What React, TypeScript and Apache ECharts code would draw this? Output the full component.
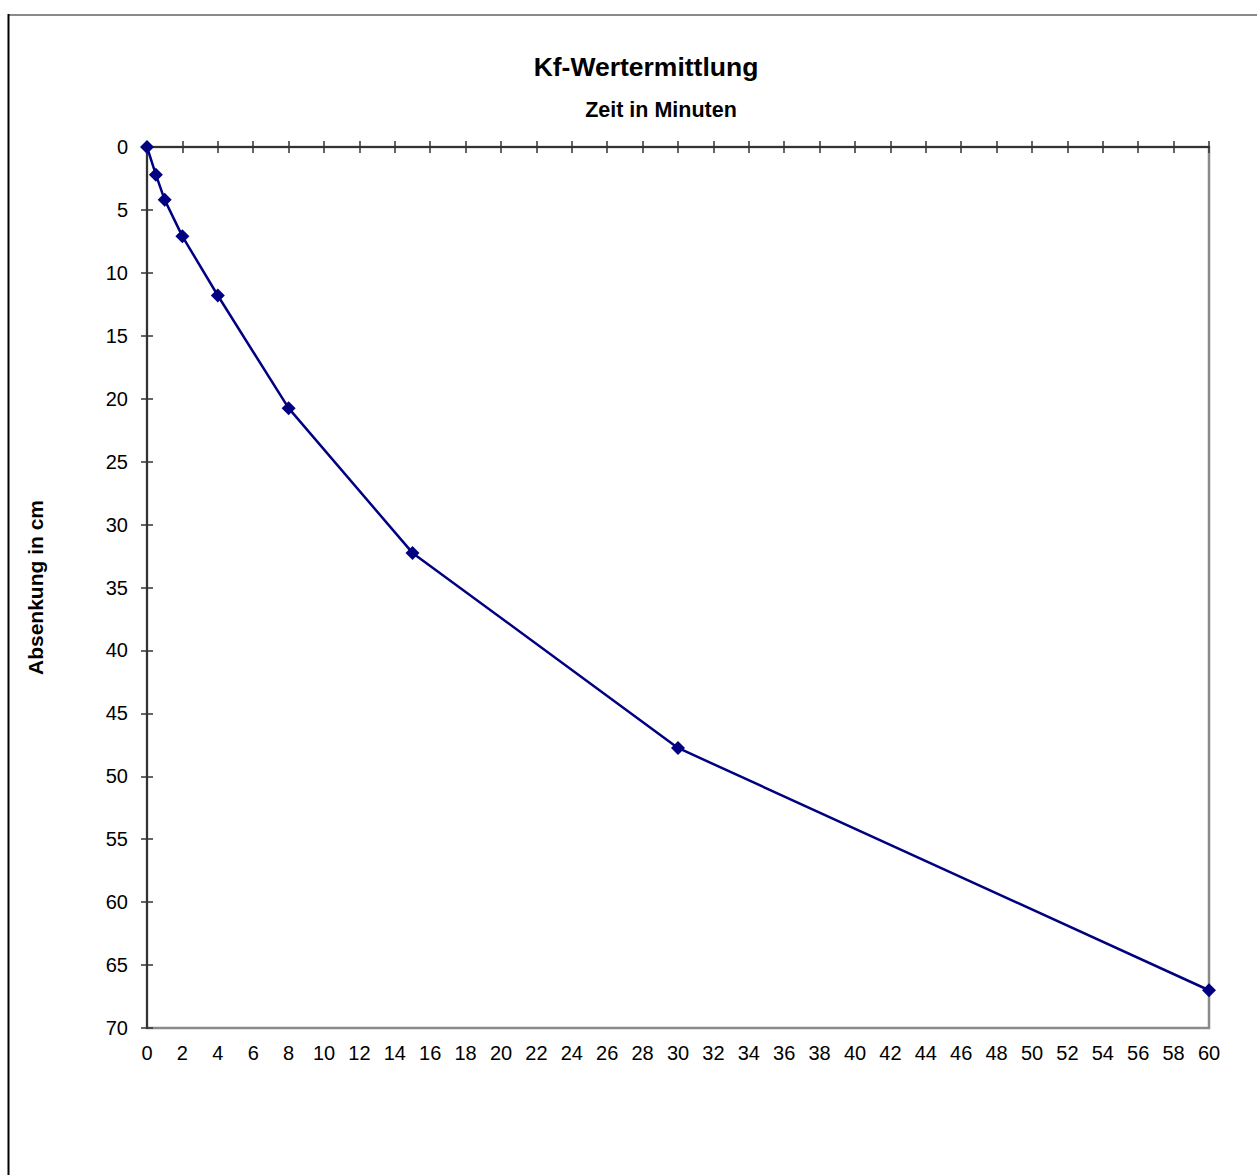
import React, { useEffect, useRef } from "react";
import * as echarts from "echarts";

const timeMinutes: number[] = [0, 0.5, 1, 2, 4, 8, 15, 30, 60];
const drawdownCm: number[] = [0, 2.2, 4.2, 7.1, 11.8, 20.75, 32.25, 47.75, 67];
const chartTitle = "Kf-Wertermittlung";
const xTitle = "Zeit in Minuten";
const yTitle = "Absenkung in cm";

const FONT = "'Liberation Sans', Arial, Helvetica, sans-serif";

export default function App() {
  const ref = useRef<HTMLDivElement>(null);
  useEffect(() => {
    document.body.style.margin = "0";
    const chart = echarts.init(ref.current!, null, { renderer: "svg" });
    const gridRect = { left: 147, top: 147, right: 48, bottom: 147 };
    const xBase = { type: "value", min: 0, max: 60, interval: 2, splitLine: { show: false } };
    const yBase = { type: "value", min: 0, max: 70, interval: 5, inverse: true, splitLine: { show: false } };
    const seriesData = timeMinutes.map((t, i) => [t, drawdownCm[i]]);
    chart.setOption({
      animation: false,
      backgroundColor: "#ffffff",
      textStyle: { fontFamily: FONT },
      grid: [
        { ...gridRect, show: true, borderColor: "#8a8a8a", borderWidth: 2.5, backgroundColor: "transparent" },
        { ...gridRect, show: false },
      ],
      xAxis: [
        {
          ...xBase,
          gridIndex: 0,
          position: "top",
          axisLine: { show: true, lineStyle: { color: "#333333", width: 2 } },
          axisTick: { show: true, inside: false, length: 6, lineStyle: { color: "#333333", width: 1.5 } },
          axisLabel: { show: false },
        },
        {
          ...xBase,
          gridIndex: 0,
          position: "bottom",
          axisLine: { show: false },
          axisTick: { show: false },
          axisLabel: { show: true, margin: 15, fontSize: 20, color: "#000000", fontFamily: FONT },
        },
        {
          ...xBase,
          gridIndex: 1,
          position: "top",
          axisLine: { show: false },
          axisTick: { show: true, inside: true, length: 6, lineStyle: { color: "#333333", width: 1.5 } },
          axisLabel: { show: false },
        },
      ],
      yAxis: [
        {
          ...yBase,
          gridIndex: 0,
          position: "left",
          axisLine: { show: true, lineStyle: { color: "#333333", width: 2 } },
          axisTick: { show: true, inside: false, length: 6, lineStyle: { color: "#333333", width: 1.5 } },
          axisLabel: { show: true, margin: 19, fontSize: 20, color: "#000000", fontFamily: FONT },
          name: yTitle,
          nameLocation: "middle",
          nameGap: 101,
          nameRotate: 90,
          nameTextStyle: { fontSize: 21, fontWeight: "bold", color: "#000000", fontFamily: FONT },
        },
        {
          ...yBase,
          gridIndex: 1,
          position: "left",
          axisLine: { show: false },
          axisTick: { show: true, inside: true, length: 6, lineStyle: { color: "#333333", width: 1.5 } },
          axisLabel: { show: false },
        },
      ],
      series: [
        {
          type: "line",
          xAxisIndex: 0,
          yAxisIndex: 0,
          data: seriesData,
          symbol: "diamond",
          symbolSize: 14,
          showSymbol: true,
          lineStyle: { color: "#000080", width: 2.5 },
          itemStyle: { color: "#000080" },
          z: 5,
        },
      ],
      graphic: [
        { type: "line", shape: { x1: 8, y1: 15, x2: 1257, y2: 15 }, style: { stroke: "#8a8a8a", lineWidth: 2 } },
        { type: "line", shape: { x1: 8.5, y1: 14, x2: 8.5, y2: 1175 }, style: { stroke: "#000000", lineWidth: 2 } },
        {
          type: "text",
          x: 646,
          y: 67,
          style: { text: chartTitle, align: "center", verticalAlign: "middle", font: `bold 26.5px ${FONT}`, fill: "#000000" },
        },
        {
          type: "text",
          x: 661,
          y: 110,
          style: { text: xTitle, align: "center", verticalAlign: "middle", font: `bold 21.5px ${FONT}`, fill: "#000000" },
        },
      ],
    });
    return () => chart.dispose();
  }, []);
  return (
    <div
      ref={ref}
      style={{ position: "absolute", left: 0, top: 0, width: 1257, height: 1175 }}
    />
  );
}
